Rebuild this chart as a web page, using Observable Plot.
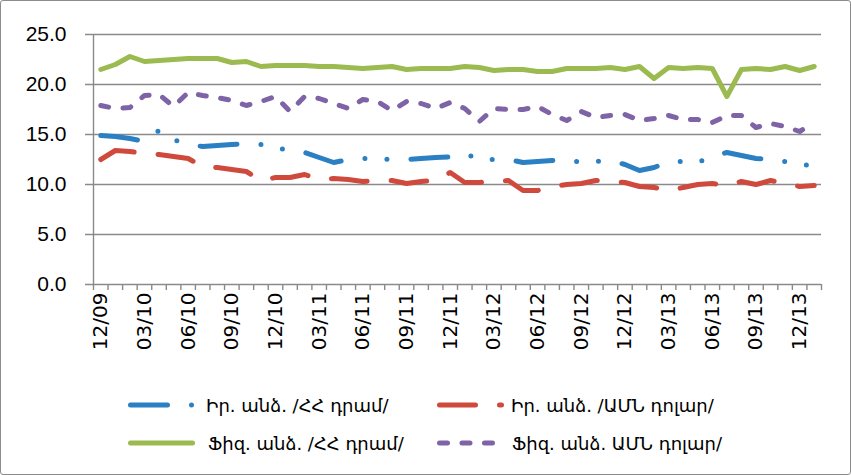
<!DOCTYPE html>
<html><head><meta charset="utf-8">
<script src="https://cdn.jsdelivr.net/npm/d3@7"></script>
<script src="https://cdn.jsdelivr.net/npm/@observablehq/plot@0.6"></script>
<style>
html,body{margin:0;padding:0;background:#fff;}
#frame{position:relative;width:851px;height:475px;box-sizing:border-box;border:1px solid #8c8c8c;border-radius:3px;overflow:hidden;background:#fff;}
#chart svg{display:block;}
.lg{position:absolute;height:20px;display:flex;align-items:center;font-family:"DejaVu Sans",sans-serif;font-size:18px;color:#000;white-space:nowrap;}
.lg svg{display:block;}
</style></head><body>
<div id="frame"><div id="chart"></div><div id="legend"></div></div>
<script>
// Month categories (x axis)
const months = ["12/09",
 "01/10","02/10","03/10","04/10","05/10","06/10","07/10","08/10","09/10","10/10","11/10","12/10",
 "01/11","02/11","03/11","04/11","05/11","06/11","07/11","08/11","09/11","10/11","11/11","12/11",
 "01/12","02/12","03/12","04/12","05/12","06/12","07/12","08/12","09/12","10/12","11/12","12/12",
 "01/13","02/13","03/13","04/13","05/13","06/13","07/13","08/13","09/13","10/13","11/13","12/13",
 "01/14"];
// Labelled ticks
const tickLabels = ["12/09","03/10","06/10","09/10","12/10","03/11","06/11","09/11","12/11","03/12","06/12","09/12","12/12","03/13","06/13","09/13","12/13"];
const yTicks = [0, 5, 10, 15, 20, 25];

// Series
const seriesNames = ["Իր. անձ. /ՀՀ դրամ/", "Իր. անձ. /ԱՄՆ դոլար/", "Ֆիզ. անձ. /ՀՀ դրամ/", "Ֆիզ. անձ. ԱՄՆ դոլար/"];
const legalAMD = [14.9,14.8,14.6,14.3,15.4,14.5,14.0,13.8,13.9,14.0,14.1,14.0,13.8,13.3,13.2,12.7,12.2,12.5,12.6,12.6,12.5,12.5,12.6,12.7,12.75,13.1,12.5,12.5,12.5,12.2,12.3,12.4,12.5,12.2,12.3,12.4,12.0,11.4,11.7,12.3,12.3,12.2,12.8,13.2,12.9,12.6,12.5,12.3,12.0,11.9];
const legalUSD = [12.5,13.4,13.3,13.1,13.0,12.8,12.6,11.8,11.7,11.5,11.3,10.4,10.7,10.7,11.0,10.5,10.6,10.5,10.3,10.4,10.4,10.1,10.3,10.4,11.2,10.2,10.2,10.3,10.4,9.4,9.4,9.8,10.0,10.1,10.4,10.3,10.2,9.8,9.7,9.4,9.7,10.0,10.1,9.9,10.3,10.0,10.4,10.1,9.8,9.9];
const physAMD = [21.5,22.0,22.8,22.3,22.4,22.5,22.6,22.6,22.6,22.2,22.3,21.8,21.9,21.9,21.9,21.8,21.8,21.7,21.6,21.7,21.8,21.5,21.6,21.6,21.6,21.8,21.7,21.4,21.5,21.5,21.3,21.3,21.6,21.6,21.6,21.7,21.5,21.8,20.6,21.7,21.6,21.7,21.6,18.8,21.5,21.6,21.5,21.8,21.4,21.8];
const physUSD = [17.9,17.6,17.7,18.9,19.0,17.8,19.2,18.9,18.7,18.4,17.9,18.3,18.8,17.3,18.8,18.6,18.1,17.6,18.5,18.3,17.4,18.3,18.1,17.6,18.2,17.6,16.3,17.6,17.5,17.5,17.8,17.0,16.4,17.3,16.7,16.9,17.0,16.4,16.6,16.9,16.5,16.5,16.2,16.9,16.9,15.7,16.1,15.8,15.3,16.2];

const seriesValues = [legalAMD, legalUSD, physAMD, physUSD];
const colors = ["#2b7fc3", "#cf4a3d", "#9bbb50", "#7e63a6"];
const dashes = ["37,24,0,22,0,24", "36,24", null, "8,14.5"];

const rows = [];
seriesValues.forEach((vals, s) => vals.forEach((v, i) => rows.push({i, month: months[i], value: v, s})));

const gray = "#8a8a8a";
const xDomain = [-0.5, months.length - 0.5];
const boundaries = d3.range(months.length + 1).map(i => i - 0.5);
const labelIdx = tickLabels.map(t => months.indexOf(t));

const marks = [
  Plot.gridY(yTicks, {stroke: gray, strokeOpacity: 1, strokeWidth: 1.4}),
  Plot.ruleX([xDomain[0]], {stroke: gray, strokeWidth: 1.4}),
  Plot.axisY(yTicks, {tickFormat: d => d.toFixed(1), tickSize: 8, tickPadding: 19, fontSize: 21,
    fontFamily: "Liberation Sans", stroke: gray, strokeWidth: 1.4, fill: "#000", label: null}),
  Plot.axisX(boundaries, {tickSize: 6, stroke: gray, strokeWidth: 1.4, fill: "none", label: null}),
  Plot.axisX(labelIdx, {tickSize: 0, tickPadding: 8, tickRotate: -90, tickFormat: i => months[i],
    fontSize: 20, fontFamily: "DejaVu Sans", fill: "#000", label: null})
];
seriesValues.forEach((vals, s) => {
  marks.push(Plot.line(rows.filter(r => r.s === s), {
    x: "i", y: "value", stroke: colors[s], strokeWidth: 5,
    strokeDasharray: dashes[s] || undefined, strokeLinecap: "round", strokeLinejoin: "round"
  }));
});

const chart = Plot.plot({
  width: 849, height: 375,
  marginLeft: 92, marginRight: 29, marginTop: 33, marginBottom: 92,
  style: {background: "transparent", overflow: "visible"},
  x: {type: "linear", domain: xDomain, axis: null},
  y: {domain: [0, 25], axis: null},
  marks
});
document.getElementById("chart").appendChild(chart);

// Legend
const legend = document.getElementById("legend");
const pos = [[127, 394, 205], [436, 394, 510], [127, 432, 207], [436, 432, 511]];
const sampleLen = [62.5, 62, 62, 57];
seriesNames.forEach((name, s) => {
  const [lx, ly, tx] = pos[s];
  const item = document.createElement("div");
  item.className = "lg";
  item.style.left = lx + "px";
  item.style.top = ly + "px";
  const svgNS = "http://www.w3.org/2000/svg";
  const svg = document.createElementNS(svgNS, "svg");
  svg.setAttribute("width", tx - lx);
  svg.setAttribute("height", 20);
  const ln = document.createElementNS(svgNS, "line");
  ln.setAttribute("x1", 2.5); ln.setAttribute("x2", 2.5 + sampleLen[s]);
  ln.setAttribute("y1", 10); ln.setAttribute("y2", 10);
  ln.setAttribute("stroke", colors[s]); ln.setAttribute("stroke-width", 5);
  ln.setAttribute("stroke-linecap", "round");
  if (dashes[s]) ln.setAttribute("stroke-dasharray", dashes[s]);
  svg.appendChild(ln);
  item.appendChild(svg);
  const t = document.createElement("span");
  t.textContent = name;
  item.appendChild(t);
  legend.appendChild(item);
});
</script>
</body></html>
